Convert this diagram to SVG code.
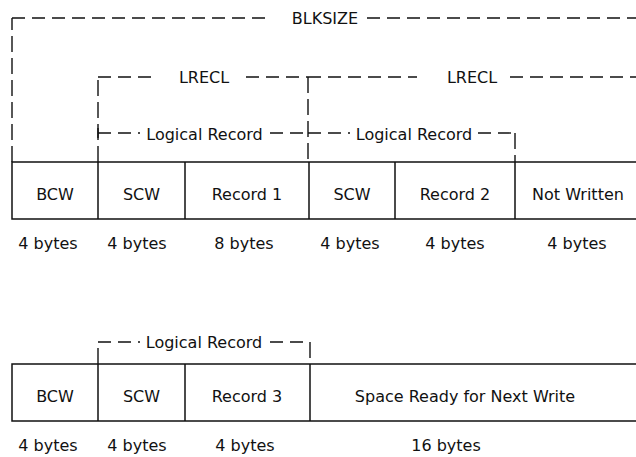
<svg xmlns="http://www.w3.org/2000/svg" width="636" height="457" viewBox="0 0 636 457">
<style>
text{font-family:"DejaVu Sans","Liberation Sans",sans-serif;font-size:16px;fill:#111;text-anchor:middle}
.box{fill:none;stroke:#111;stroke-width:1.5}
.dh{fill:none;stroke:#111;stroke-width:1.4;stroke-dasharray:13 7}
.dv{fill:none;stroke:#111;stroke-width:1.4;stroke-dasharray:16 6}
.sl{fill:none;stroke:#111;stroke-width:1.4}
</style>
<rect width="636" height="457" fill="#fff"/>
<g id="connectors">
  <!-- BLKSIZE -->
  <path class="dv" d="M12,162 V18"/>
  <path class="dh" d="M12,18 H272"/>
  <path class="dh" d="M367,18 H636"/>
  <!-- LRECL 1 -->
  <path class="dv" d="M98,162 V77"/>
  <path class="dh" d="M98,77 H155"/>
  <path class="dh" d="M246,77 H308"/>
  <path class="dv" d="M308,77 V162"/>
  <!-- LRECL 2 -->
  <path class="dh" d="M308,77 H417"/>
  <path class="dh" d="M510,77 H636"/>
  <!-- Logical record 1 -->
  <path class="sl" d="M98,128 V138"/>
  <path class="dh" d="M98,133 H140"/>
  <path class="dh" d="M270,133 H308"/>
  <!-- Logical record 2 -->
  <path class="dh" d="M308,133 H350"/>
  <path class="dh" d="M478,133 H515"/>
  <path class="dv" d="M515,133 V162"/>
  <!-- Logical record 3 -->
  <path class="dv" d="M98,364 V342"/>
  <path class="dh" d="M98,342 H140"/>
  <path class="dh" d="M270,342 H310"/>
  <path class="dv" d="M310,342 V364"/>
</g>
<g id="labels">
  <text x="325" y="24">BLKSIZE</text>
  <text x="204" y="83">LRECL</text>
  <text x="472" y="83">LRECL</text>
  <text x="204.5" y="140">Logical Record</text>
  <text x="414" y="140">Logical Record</text>
  <text x="204" y="348">Logical Record</text>
</g>
<g id="block1">
  <path class="box" d="M636,162 H12 V219 H636"/>
  <path class="box" d="M98,162 V219 M185,162 V219 M309,162 V219 M395,162 V219 M515,162 V219"/>
  <g id="b1-bcw"><text x="55" y="200">BCW</text><text x="48" y="249">4 bytes</text></g>
  <g id="b1-scw1"><text x="141.5" y="200">SCW</text><text x="137" y="249">4 bytes</text></g>
  <g id="b1-rec1"><text x="247" y="200">Record 1</text><text x="244" y="249">8 bytes</text></g>
  <g id="b1-scw2"><text x="352" y="200">SCW</text><text x="350" y="249">4 bytes</text></g>
  <g id="b1-rec2"><text x="455" y="200">Record 2</text><text x="455" y="249">4 bytes</text></g>
  <g id="b1-nw"><text x="578" y="200">Not Written</text><text x="577" y="249">4 bytes</text></g>
</g>
<g id="block2">
  <path class="box" d="M636,364 H12 V421 H636"/>
  <path class="box" d="M98,364 V421 M185,364 V421 M310,364 V421"/>
  <g id="b2-bcw"><text x="55" y="402">BCW</text><text x="48" y="451">4 bytes</text></g>
  <g id="b2-scw"><text x="141.5" y="402">SCW</text><text x="137" y="451">4 bytes</text></g>
  <g id="b2-rec3"><text x="247" y="402">Record 3</text><text x="245" y="451">4 bytes</text></g>
  <g id="b2-space"><text x="465" y="402">Space Ready for Next Write</text><text x="446" y="451">16 bytes</text></g>
</g>
</svg>
